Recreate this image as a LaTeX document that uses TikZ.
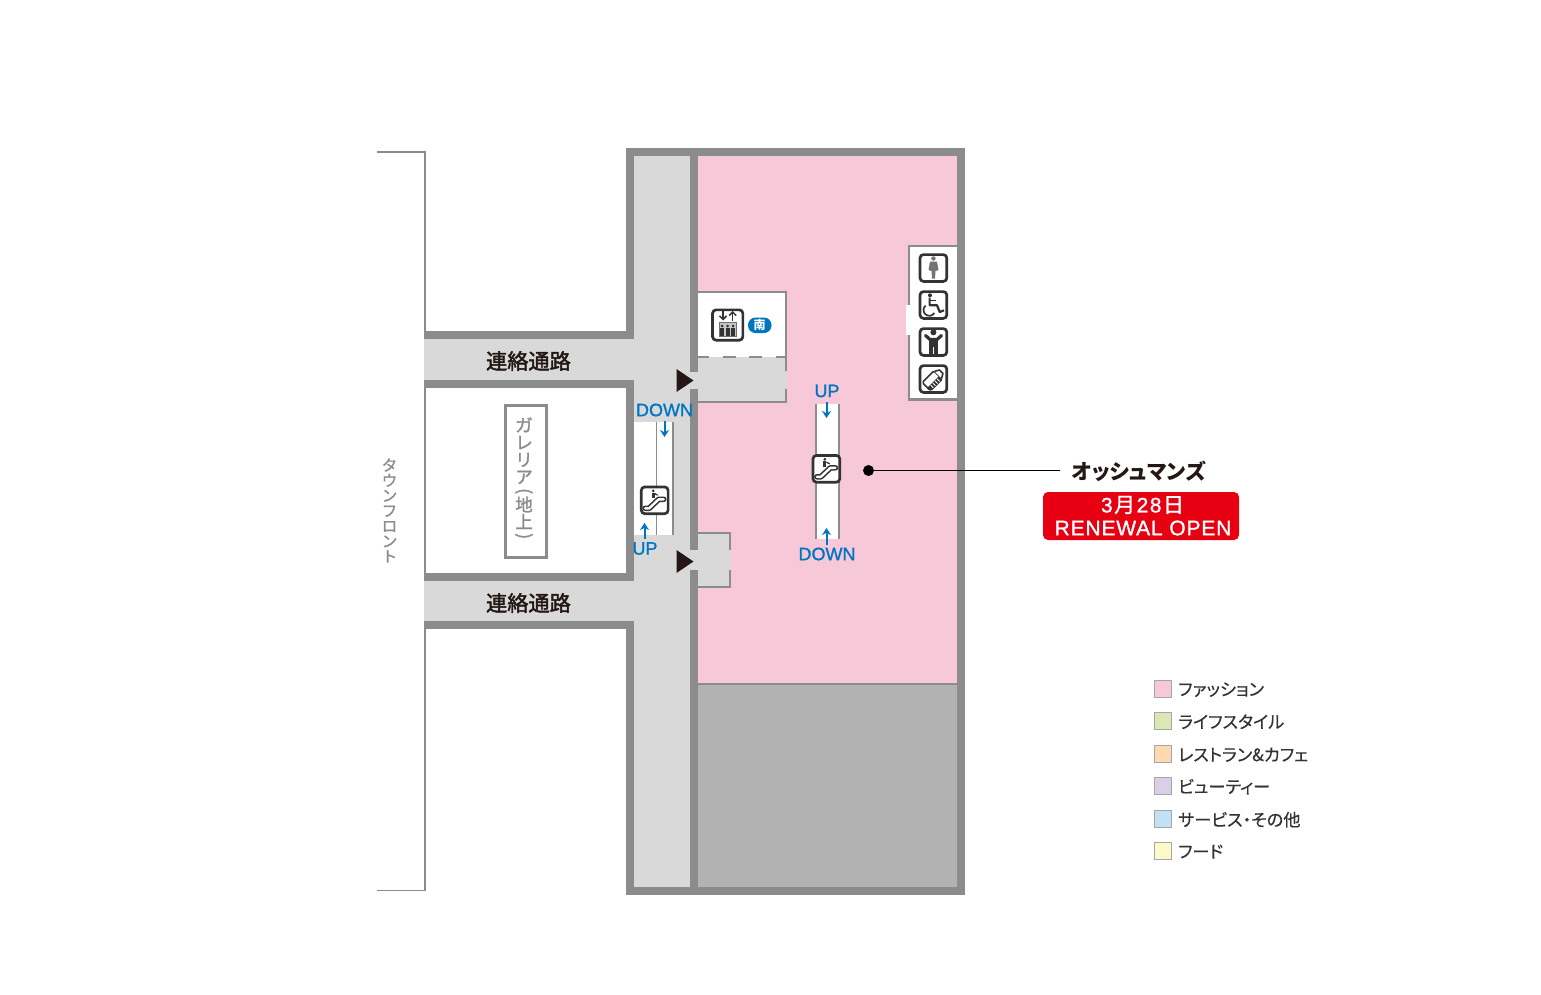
\documentclass[tikz,border=0pt]{standalone}
\usepackage{fontspec}
\setmainfont{Liberation Sans}
\newfontfamily\jp[RawFeature=+palt]{Noto Sans CJK JP}
\newfontfamily\jpfull{Noto Sans CJK JP}
\definecolor{wall}{HTML}{8C8C8C}
\definecolor{floorgrey}{HTML}{D9D9D9}
\definecolor{darkgrey}{HTML}{B2B2B2}
\definecolor{fashion}{HTML}{F7C8D8}
\definecolor{lbl}{HTML}{231815}
\definecolor{blu}{HTML}{0075C2}
\definecolor{redb}{HTML}{E60012}
\definecolor{icon}{HTML}{333333}
\usetikzlibrary{arrows.meta}
\tikzset{
  x=1pt,y=-1pt,
  wallfill/.style={fill=wall,draw=none},
  floorfill/.style={fill=floorgrey,draw=none},
  thinwall/.style={draw=wall,line width=2.2pt},
  corridorlabel/.style={font=\jpfull\fontsize{21.2}{21.2}\selectfont\addfontfeature{FakeBold=2.2},text=lbl,inner sep=0pt},
  bluelabel/.style={font=\fontsize{18}{18}\selectfont\addfontfeature{FakeBold=1.2},text=blu,inner sep=0pt},
  bluearrow/.style={draw=blu,line width=2pt,-{Stealth[length=7pt,width=9pt]}},
  iconbox/.style={draw=icon,fill=white,line width=2.7pt,rounded corners=3.5pt},
  legendbox/.style={draw=black!35,line width=1pt},
  legendtext/.style={font=\jp\fontsize{17.2}{17.2}\selectfont\addfontfeature{FakeBold=0.4},text=icon,anchor=west,inner sep=0pt},
  tri/.style={fill=lbl,draw=none},
  vertlabel/.style={font=\jpfull\fontsize{17.5}{17.2}\selectfont\addfontfeature{FakeBold=1.5},text=wall,inner sep=0pt,align=center},
}
\newcommand{\escicon}[2]{%
 \begin{scope}[shift={(#1,#2)}]
  \node[iconbox,minimum size=26.8pt,inner sep=0pt] at (0,0) {};
  \draw[icon,line width=5.6pt,line join=round,line cap=round] (-9.5,8) -- (-5.5,8) -- (4,-1) -- (9,-1);
  \draw[white,line width=2.4pt,line join=round,line cap=round] (-9.5,8) -- (-5.5,8) -- (4,-1) -- (9,-1);
  \fill[icon] (-1.5,-9.5) circle (1.5);
  \fill[icon] (-3,-7.5) rectangle (0,-2);
  \fill[icon] (0,-7.5) -- (3.5,-5.5) -- (3.5,-4.5) -- (0,-5.7) -- cycle;
 \end{scope}}
\newcommand{\rp}[1]{\rotatebox[origin=c]{-90}{#1}}
\begin{document}
\begin{tikzpicture}
\useasboundingbox (0,0) rectangle (1541,994);
\fill[white] (0,0) rectangle (1541,994);
% bracket
\draw[wall,line width=1.5pt] (377,152) -- (424.8,152) -- (424.8,890.5) -- (377,890.5);
% building walls
\fill[wallfill] (626,148) rectangle (965,895);
\fill[wallfill] (424,331) rectangle (634,388);
\fill[wallfill] (424,573) rectangle (634,629);
% corridors
\fill[floorfill] (634,156) rectangle (690,887);
\fill[floorfill] (424,339) rectangle (690,380);
\fill[floorfill] (424,581) rectangle (690,621);
% floors
\fill[fashion] (698,156) rectangle (957,684);
\fill[darkgrey] (698,684) rectangle (957,887);
\draw[wall,line width=1.5pt] (698,684) -- (957,684);
% upper entrance room
\fill[white] (698,291) rectangle (787,357);
\fill[floorfill] (698,357) rectangle (787,402);
\fill[floorfill] (690,372) rectangle (698,389);
\draw[thinwall] (698,292) -- (786,292) -- (786,357);
\draw[thinwall,dash pattern=on 13pt off 13.5pt,dash phase=2pt] (698,357) -- (786,357);
\draw[thinwall] (786,357) -- (786,371);
\draw[thinwall] (786,389) -- (786,402) -- (698,402);
% lower entrance room
\fill[floorfill] (698,533) rectangle (730,587);
\fill[floorfill] (690,550) rectangle (698,570);
\draw[thinwall] (698,533) -- (730,533) -- (730,550);
\draw[thinwall] (730,570) -- (730,587) -- (698,587);
% triangles
\fill[tri] (676.5,369) -- (693.5,380.5) -- (676.5,392) -- cycle;
\fill[tri] (676.5,550) -- (693.5,561.5) -- (676.5,573) -- cycle;
% left escalator
\fill[white] (634,422) rectangle (673,535);
\draw[wall,line width=1.8pt] (656.5,422) -- (656.5,535);
\draw[wall,line width=1.8pt] (673,422) -- (673,535);
\escicon{654.7}{500.3}
\draw[bluearrow] (664.5,421) -- (664.5,437);
\draw[bluearrow] (644.5,539) -- (644.5,523);
\node[bluelabel] (ldown) at (664.5,410) {DOWN};
\node[bluelabel] (lup) at (645,548.5) {UP};
% middle escalator
\fill[white] (815,404) rectangle (839,539);
\draw[wall,line width=2pt] (815.5,404) -- (815.5,539);
\draw[wall,line width=2pt] (838.5,404) -- (838.5,539);
\escicon{826.4}{468.8}
\draw[bluearrow] (826.5,402) -- (826.5,418);
\draw[bluearrow] (826.5,545) -- (826.5,528);
\node[bluelabel] (mup) at (827,391) {UP};
\node[bluelabel] (mdown) at (827,554) {DOWN};
% lift
\begin{scope}[shift={(727.7,325)}]
 \node[iconbox,minimum size=30.3pt,inner sep=0pt] at (0,0) {};
 \draw[icon,line width=1.5pt,-{Straight Barb[length=3.5pt,width=7pt]}] (-4.7,-14) -- (-4.7,-4.5);
 \draw[icon,line width=1.5pt,-{Straight Barb[length=3.5pt,width=7pt]}] (5,-4.5) -- (5,-14);
 \draw[icon!70,fill=black!22,line width=1pt] (-8.5,-3) rectangle (8.5,11);
 \foreach \k in {-5.5,0,5.5}{
  \fill[icon] (\k,1) circle (1.5);
  \fill[icon] (\k-1.8,3) rectangle (\k+1.8,10.5);
 }
\end{scope}
\fill[blu,rounded corners=7.5pt] (748,317.5) rectangle (771.5,333);
\node[font=\jpfull\bfseries\fontsize{12}{12}\selectfont,text=white,inner sep=0pt] (south) at (759.5,325) {南};
% toilet panel
\fill[white] (908,245) rectangle (957,400);
\draw[wall,line width=2.2pt] (957,246) -- (909,246) -- (909,399.5) -- (957,399.5);
\fill[white] (906,305) rectangle (911,335);
\foreach \yy in {268,305,342,379}{
 \node[iconbox,minimum size=26.8pt,inner sep=0pt] at (933.4,\yy) {};
}
% woman
\fill[black!55] (933.4,258.5) circle (2.2);
\fill[black!55] (930,261.5) -- (937,261.5) -- (938.5,270) -- (935.5,271) -- (935,278.5) -- (932,278.5) -- (931.5,271) -- (928.5,270) -- cycle;
% wheelchair
\fill[icon] (930,295.3) circle (2);
\draw[icon,line width=2.2pt,line join=round] (929.6,297.5) -- (929.6,305.2) -- (937,305.2) -- (939.7,312) -- (944,310.3);
\draw[icon,line width=1.5pt] (930,300.5) -- (936,300.5);
\draw[icon,line width=1.7pt] (925.6,305.6) arc[start angle=230,end angle=30,radius=5.8];
% child
\fill[icon] (933.4,332.3) circle (3);
\draw[icon,line width=3.2pt,line cap=round,line join=round] (925.5,335.5) -- (930,339.5) -- (937,339.5) -- (941.5,335.5);
\fill[icon] (929.3,338) rectangle (937.5,347);
\fill[icon] (929.3,347) rectangle (933,354);
\fill[icon] (933.8,347) rectangle (937.5,354);
% bottle
\begin{scope}[shift={(933.4,379.5)},rotate=-45]
 \draw[icon,fill=white,line width=1.6pt,rounded corners=1.5pt] (-5.8,-6.5) rectangle (5.8,10);
 \fill[icon] (1.5,-6.5) rectangle (5.8,10);
 \foreach \k in {-3,0,3,6} \draw[white,line width=.9pt] (2,\k) -- (5.8,\k);
 \draw[icon,fill=white,line width=1.6pt,line join=round] (-5,-6.5) -- (-2.5,-11) -- (2.5,-11) -- (5,-6.5);
\end{scope}
% corridor labels
\node[corridorlabel] (c1) at (528.5,361) {連絡通路};
\node[corridorlabel] (c2) at (528.5,603) {連絡通路};
% galleria
\draw[draw=wall,line width=3pt] (505.5,405.5) rectangle (546,557);
\node[vertlabel] (gal) at (524,479.5) {ガ\\レ\\リ\\ア\\[-4pt]\rp{(}\\[-2.5pt]地\\上\\[-4pt]\rp{)}};
\node[vertlabel,font=\jpfull\fontsize{15.5}{15.2}\selectfont\addfontfeature{FakeBold=1}] (tf) at (389.5,510.5) {タ\\ウ\\ン\\フ\\ロ\\ン\\ト};
% callout
\node[circle,fill=black,draw=none,minimum size=11pt,inner sep=0pt] (dot) at (868.5,470.5) {};
\coordinate (lineend) at (1060,470.5);
\draw[black,line width=1pt] (dot) -- (lineend);
\node[font=\jp\bfseries\fontsize{21}{21}\selectfont,text=lbl,inner sep=0pt] (osh) at (1139,471) {オッシュマンズ};
\fill[redb,rounded corners=5pt] (1043,492) rectangle (1239,540);
\node[font=\fontsize{21}{21}\selectfont\addfontfeature{FakeBold=1.2},text=white,inner sep=0pt] (date) at (1142.5,505) {3\kern1.5pt{\jpfull\addfontfeature{FakeBold=1.2} 月}\kern1.5pt2\kern1.5pt8\kern1.5pt{\jpfull\addfontfeature{FakeBold=1.2} 日}};
\node[font=\fontsize{21}{21}\selectfont\addfontfeature{FakeBold=1.2,LetterSpace=4},text=white,inner sep=0pt] (ren) at (1143,528) {RENEWAL OPEN};
% legend
\foreach \yy/\cc/\tt in {689/F7C8D8/ファッション,721/DBE8B5/ライフスタイル,754/FDD9B0/レストラン\&カフェ,786/DBCFE7/ビューティー,819/C4E0F5/サービス・その他,851/FFF9C9/フード}{
 \definecolor{lgc}{HTML}{\cc}
 \fill[lgc] (1154.5,\yy-8.5) rectangle (1171,\yy+8.5);
 \draw[legendbox] (1154.5,\yy-8.5) rectangle (1171,\yy+8.5);
 \node[legendtext] at (1178,\yy+0.7) {\tt};
}
\end{tikzpicture}
\end{document}
